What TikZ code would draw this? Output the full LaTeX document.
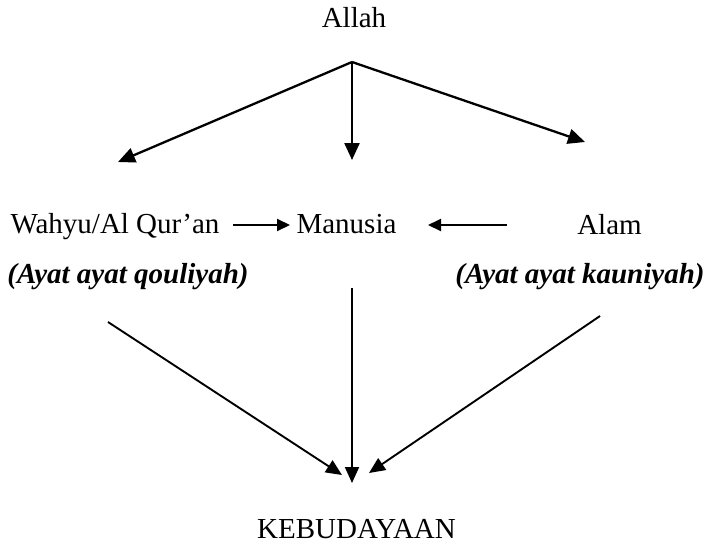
\documentclass[tikz,border=0pt]{standalone}
\usepackage{fontspec}
\setmainfont{Liberation Serif}
\usetikzlibrary{arrows.meta}
\begin{document}
\begin{tikzpicture}[x=1pt,y=-1pt,
  lbl/.style={inner sep=0pt, anchor=base, font=\fontsize{29}{34}\selectfont},
  ilbl/.style={lbl, font=\fontsize{29}{34}\selectfont\bfseries\itshape},
  bigarr/.style={line width=2.3pt, -{Triangle[length=17pt,width=15pt]}},
  midarr/.style={line width=1.9pt, -{Triangle[length=16pt,width=14pt]}},
  smallarr/.style={line width=2pt, -{Triangle[length=13pt,width=12pt]}}]
\useasboundingbox (0,0) rectangle (708,543);
% texts
\node[lbl] (allah) at (354,28) {Allah};
\node[lbl] (wahyu) at (115,233) {Wahyu/Al Qur'an};
\node[lbl] (manusia) at (346.5,233) {Manusia};
\node[lbl] (alam) at (609.5,234) {Alam};
\node[ilbl] (qoul) at (128,283) {(Ayat ayat qouliyah)};
\node[ilbl] (kaun) at (580,283) {(Ayat ayat kauniyah)};
\node[lbl] (kebud) at (356.5,538) {KEBUDAYAAN};
% coordinates
\coordinate (apex) at (352,62);
\coordinate (tl) at (118,162);
\coordinate (tm) at (352,160);
\coordinate (tr) at (585,142);
\coordinate (wa) at (233,225);
\coordinate (ma) at (290,225);
\coordinate (mb) at (428,225);
\coordinate (aa) at (507,225);
\coordinate (ql) at (108,322);
\coordinate (mm) at (352,288);
\coordinate (kr) at (600,316);
\coordinate (bl) at (342,475);
\coordinate (bm) at (352,483);
\coordinate (br) at (369,473);
% arrows
\draw[bigarr] (apex) -- (tl);
\draw[bigarr] (apex) -- (tm);
\draw[bigarr] (apex) -- (tr);
\draw[smallarr] (wa) -- (ma);
\draw[smallarr] (aa) -- (mb);
\draw[midarr] (ql) -- (bl);
\draw[midarr] (mm) -- (bm);
\draw[midarr] (kr) -- (br);
\end{tikzpicture}
\end{document}
